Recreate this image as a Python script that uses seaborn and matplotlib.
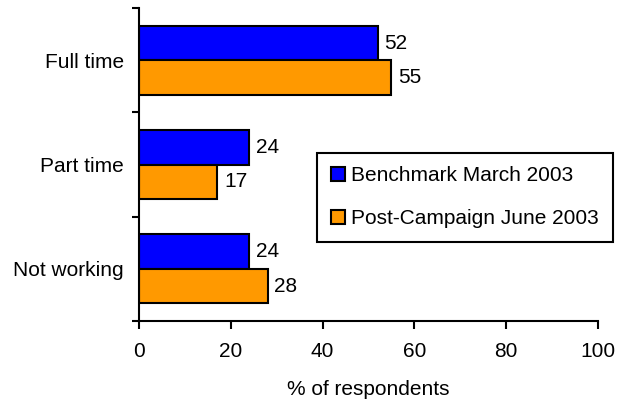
import seaborn as sns
import matplotlib.pyplot as plt
import pandas as pd

# data
categories = ['Full time', 'Part time', 'Not working']
benchmark = [52, 24, 24]
post_campaign = [55, 17, 28]
series_names = ['Benchmark March 2003', 'Post-Campaign June 2003']
x_ticks = [0, 20, 40, 60, 80, 100]

df = pd.DataFrame({
    'category': categories * 2,
    'value': benchmark + post_campaign,
    'series': [series_names[0]] * 3 + [series_names[1]] * 3,
})

sns.set_style("ticks")
plt.rcParams['font.family'] = ['Liberation Sans', 'DejaVu Sans']
plt.rcParams['font.size'] = 15
for k in ['text.color', 'axes.labelcolor', 'xtick.color', 'ytick.color']:
    plt.rcParams[k] = 'black'

fig = plt.figure(figsize=(6.25, 4.03), dpi=100)
ax = fig.add_axes([0.2224, 0.2035, 0.7344, 0.7765])

sns.barplot(data=df, x='value', y='category', hue='series', order=categories,
            hue_order=series_names, palette=['#0000FF', '#FF9900'], orient='h',
            width=0.66, saturation=1, edgecolor='black', linewidth=1.5, ax=ax)

for c in ax.containers:
    ax.bar_label(c, padding=5, fontsize=15, color='black')

ax.set_xlim(0, 100)
ax.set_ylim(2.5, -0.5)
ax.set_xticks(x_ticks)
ax.set_yticks(range(len(categories)))
ax.set_yticklabels(categories)
ax.set_yticks([-0.5, 0.5, 1.5, 2.5], minor=True)
ax.tick_params(axis='y', which='major', length=0, pad=11, labelsize=15)
ax.tick_params(axis='y', which='minor', length=5, width=1.5, color='black')
ax.tick_params(axis='x', length=6, width=1.5, color='black', pad=9, labelsize=15)
ax.set_xlabel('% of respondents', fontsize=15, labelpad=14)
ax.set_ylabel('')

sns.despine(ax=ax)
for s in ['left', 'bottom']:
    ax.spines[s].set_linewidth(1.5)
    ax.spines[s].set_color('black')

leg = ax.legend(loc='upper left', bbox_to_anchor=(0.388, 0.537), fontsize=15,
                frameon=True, fancybox=False, edgecolor='black', framealpha=1,
                handlelength=0.7, handleheight=0.7, handletextpad=0.3,
                labelspacing=1.15, borderpad=0.65, borderaxespad=0)
leg.get_frame().set_linewidth(1.5)

fig.savefig('out.png', dpi=100)
